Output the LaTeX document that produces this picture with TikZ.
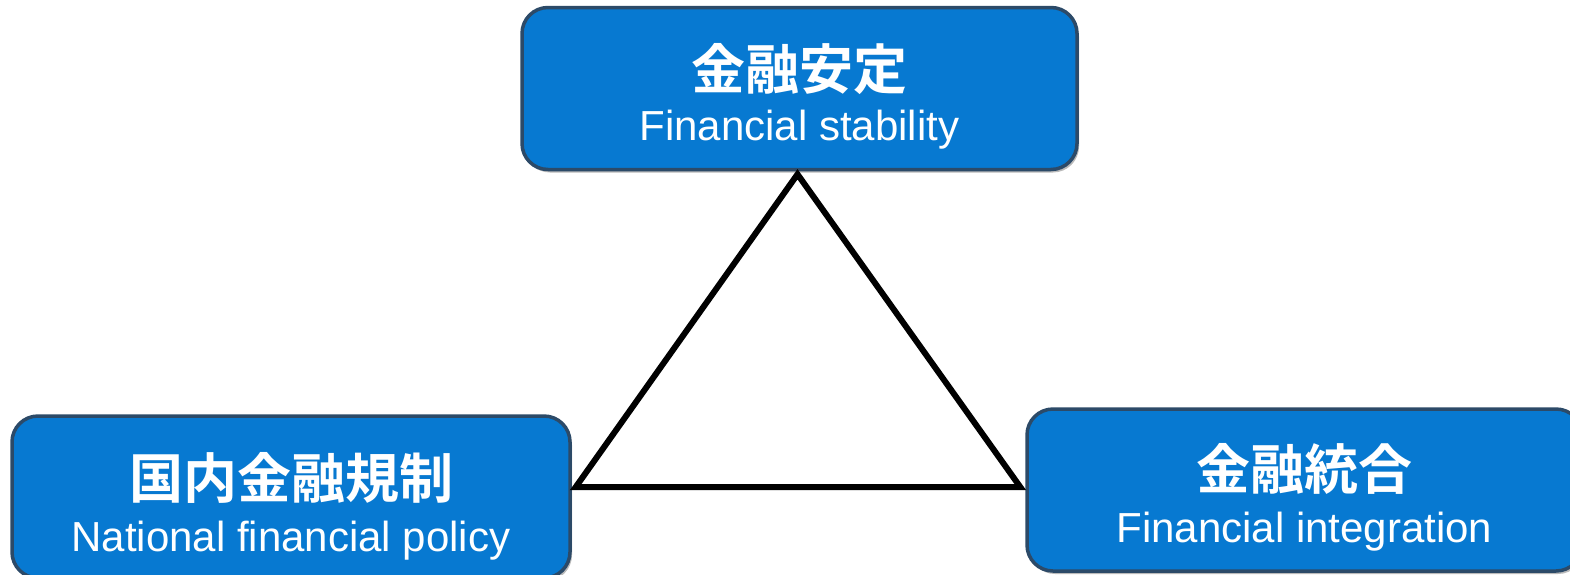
\documentclass[tikz,border=0pt]{standalone}
\usepackage{fontspec}
\newfontfamily\cjk{Noto Sans CJK JP}[BoldFont={Noto Sans CJK JP Bold}]
\newfontfamily\en{Liberation Sans}
\usetikzlibrary{calc,shadows}
\definecolor{boxblue}{HTML}{0779D1}
\definecolor{boxedge}{HTML}{2C4A68}
\tikzset{
  box/.style={rectangle, rounded corners=26pt, fill=boxblue, draw=boxedge, line width=3.5pt,
    minimum width=#1, minimum height=162pt, inner sep=0pt,
    drop shadow={shadow xshift=2pt, shadow yshift=-3pt, fill=black!45, opacity=0.6}},
  cjklabel/.style={anchor=base, text=white, font=\cjk\bfseries\fontsize{54}{60}\selectfont, inner sep=0pt},
  enlabel/.style={anchor=base, text=white, font=\en\fontsize{42}{48}\selectfont, inner sep=0pt},
  edge/.style={draw=black, line width=6pt, line join=miter}
}
\begin{document}
\begin{tikzpicture}[x=1pt,y=-1pt]
\useasboundingbox (0,0) rectangle (1570,574);
\fill[white] (0,0) rectangle (1570,574);
\node[box=555pt] (top) at (799.5,88.5) {};
\node[box=558pt] (left) at (291,497) {};
\node[box=555pt] (right) at (1304.5,490) {};
\node[cjklabel] (topj) at ($(top.center)+(0,1)$) {金融安定};
\node[enlabel] (tope) at ($(top.center)+(0,52)$) {Financial stability};
\node[cjklabel] (leftj) at ($(left.center)+(0,1)$) {国内金融規制};
\node[enlabel] (lefte) at ($(left.center)+(0,54)$) {National financial policy};
\node[cjklabel] (rightj) at ($(right.center)+(0,-1)$) {金融統合};
\node[enlabel] (righte) at ($(right.center)+(0,52)$) {Financial integration};
\coordinate (A) at ($(top.south)+(-2,3)$);
\coordinate (B) at ($(left.east)+(4,-10)$);
\coordinate (C) at ($(right.west)+(-5,-3)$);
\draw[edge] (A) -- (B) -- (C) -- cycle;
\end{tikzpicture}
\end{document}
